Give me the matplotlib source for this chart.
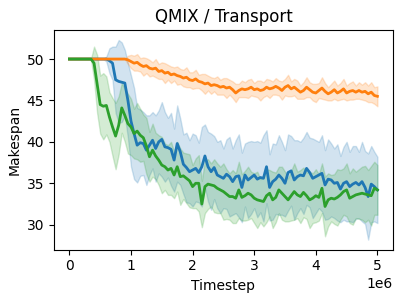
import numpy as np
import matplotlib
matplotlib.use("Agg")
import matplotlib.pyplot as plt

# timesteps in units of 1e6 (every 50k steps)
steps = np.round(np.arange(0, 5.0001, 0.05), 2) * 1e6

# mean makespan per method
blue_mean = [50.0] * 13 + [
    49.8, 49.5, 47.5, 47.3, 47.2, 47.1, 45.0, 42.5, 41.0, 39.6,
    39.9, 39.8, 39.0, 39.6, 40.2, 39.2, 40.0, 40.3, 39.4, 39.3,
    39.1, 37.8, 39.8, 38.8, 37.3, 36.9, 36.4, 36.6, 36.8, 36.3,
    37.0, 38.3, 37.0, 36.4, 36.9, 36.0, 35.8, 35.6, 36.1, 35.8,
    35.2, 35.8, 35.9, 34.5, 36.0, 35.4, 35.7, 36.0, 35.5, 35.7,
    35.6, 37.0, 34.5, 35.2, 35.5, 36.0, 35.6, 35.0, 36.3, 36.5,
    35.4, 35.8, 36.0, 35.9, 36.8, 36.3, 35.6, 35.8, 36.0, 36.2,
    34.8, 35.5, 35.4, 35.0, 35.1, 34.3, 35.0, 35.2, 34.6, 34.9,
    35.1, 34.8, 35.2, 34.5, 33.4, 34.9, 34.6, 34.2]
blue_err = [0.0] * 12 + [
    0.3, 1.5, 2.0, 4.0, 5.0, 4.8, 4.0, 4.5, 5.5, 5.5, 4.5,
    4.0, 3.8, 4.2, 3.6, 3.4, 4.0, 3.8, 4.5, 4.2, 3.6,
    4.4, 3.8, 4.6, 4.0, 3.6, 4.2, 3.8, 4.4, 4.0, 3.6,
    4.8, 3.8, 4.2, 4.6, 3.8, 4.0, 4.4, 3.6, 4.2, 4.8,
    4.0, 4.4, 5.0, 4.2, 3.8, 4.6, 4.4, 4.0, 4.6, 4.2,
    5.2, 4.4, 4.0, 4.6, 4.2, 4.8, 4.4, 4.0, 4.6, 4.2,
    4.8, 4.4, 4.0, 4.6, 4.4, 4.2, 4.8, 4.4, 4.0, 4.6,
    4.2, 4.8, 4.4, 4.2, 4.6, 4.0, 4.4, 4.8, 4.2, 4.6,
    4.4, 4.0, 4.8, 4.4, 5.2, 4.6, 4.2, 4.0]

orange_mean = [50.0] * 19 + [
    49.9, 49.7, 49.5, 49.6, 49.3, 49.1, 49.2, 48.9, 48.8, 48.9,
    48.5, 48.6, 48.3, 48.4, 48.1, 48.2, 48.0, 47.9, 47.7, 47.8,
    47.5, 47.4, 47.6, 47.3, 47.2, 47.0, 47.1, 46.8, 46.9, 46.8,
    46.6, 46.7, 46.5, 46.6, 46.3, 45.9, 46.2, 46.4, 46.3, 46.4,
    46.6, 46.3, 46.4, 46.2, 46.3, 46.6, 46.4, 46.5, 46.7, 46.5,
    46.2, 46.6, 46.8, 46.4, 46.6, 46.3, 46.0, 46.2, 46.6, 46.3,
    46.0, 45.9, 46.2, 46.5, 46.1, 45.8, 46.0, 46.3, 45.9, 46.1,
    46.4, 45.9, 46.1, 46.2, 46.0, 46.2, 46.0, 46.1, 45.8, 46.0,
    45.6, 45.5]
orange_err = [0.0] * 19 + [
    0.5, 0.8, 0.9, 1.0, 0.8, 1.1, 0.9, 1.0, 0.8, 1.1,
    0.9, 1.0, 1.2, 0.9, 1.0, 0.8, 1.1, 0.9, 1.0, 1.2,
    0.9, 1.0, 1.1, 0.8, 1.0, 1.2, 0.9, 1.0, 0.8, 1.1,
    0.9, 1.0, 1.2, 0.9, 1.0, 1.1, 0.8, 1.0, 0.9, 1.1,
    1.0, 0.8, 1.0, 1.2, 0.9, 1.0, 1.1, 0.8, 1.0, 0.9,
    1.1, 1.0, 1.3, 0.9, 1.0, 1.1, 0.8, 1.0, 1.2, 0.9,
    1.0, 1.1, 0.9, 1.3, 1.0, 0.8, 1.0, 1.1, 0.9, 1.0,
    1.2, 0.9, 1.0, 1.1, 0.8, 1.0, 0.9, 1.1, 1.0, 1.2,
    1.0, 1.2]

green_mean = [50.0] * 8 + [
    49.5, 47.0, 44.5, 44.3, 44.4, 43.0, 41.8, 40.7, 42.0, 44.1,
    43.2, 42.2, 41.8, 41.0, 41.3, 40.8, 40.5, 39.5, 38.2, 39.0,
    38.3, 37.8, 37.2, 37.0, 36.6, 36.8, 36.0, 37.0, 35.8, 35.9,
    35.6, 35.3, 34.6, 35.0, 35.0, 32.5, 34.6, 34.9, 34.8, 34.7,
    34.4, 34.2, 34.0, 33.7, 33.4, 33.4, 33.2, 34.2, 33.3, 33.5,
    33.8, 33.6, 33.2, 33.0, 32.9, 32.8, 33.5, 33.8, 33.0, 33.3,
    34.2, 33.8, 33.4, 33.0, 33.5, 34.0, 33.6, 33.4, 33.9, 33.5,
    33.0, 33.2, 33.5, 33.3, 34.4, 32.2, 33.0, 33.2, 33.1, 33.3,
    33.6, 34.0, 34.2, 33.2, 33.4, 33.6, 33.7, 33.8, 33.7, 33.6,
    33.5, 34.4, 34.2]
green_err = [0.0] * 8 + [
    2.0, 3.5, 3.5, 4.0, 3.5, 3.0, 3.5, 4.0, 3.5, 3.0,
    3.2, 3.6, 3.4, 3.0, 3.4, 3.2, 2.8, 3.4, 3.0, 3.2,
    2.8, 3.0, 3.4, 2.8, 3.0, 3.2, 2.8, 3.0, 3.4, 2.8,
    3.0, 3.2, 2.6, 3.0, 3.4, 2.8, 3.2, 3.0, 2.6, 3.2,
    3.0, 2.8, 3.4, 3.0, 2.8, 3.2, 3.0, 3.4, 2.8, 3.0,
    3.2, 2.8, 3.0, 3.4, 2.6, 3.0, 3.2, 2.8, 3.4, 3.0,
    2.8, 3.2, 3.0, 2.6, 3.0, 3.4, 2.8, 3.2, 3.0, 2.8,
    3.4, 3.0, 3.2, 2.8, 3.0, 3.6, 3.2, 2.8, 3.0, 3.4,
    3.0, 2.8, 3.2, 3.0, 3.4, 2.8, 3.0, 3.2, 3.4, 3.0,
    3.6, 3.2, 3.0]

series = [
    ("tab:blue", blue_mean, blue_err),
    ("tab:orange", orange_mean, orange_err),
    ("tab:green", green_mean, green_err),
]

fig, ax = plt.subplots(figsize=(4, 3), dpi=100)

for color, mean, err in series:
    mean = np.array(mean)
    err = np.array(err)
    ax.fill_between(steps, mean - err, mean + err, color=color, alpha=0.2)
    ax.plot(steps, mean, color=color, linewidth=2)

ax.set_title("QMIX / Transport")
ax.set_xlabel("Timestep")
ax.set_ylabel("Makespan")

fig.subplots_adjust(left=0.135, right=0.982, top=0.9, bottom=0.168)
fig.savefig("out.png")
